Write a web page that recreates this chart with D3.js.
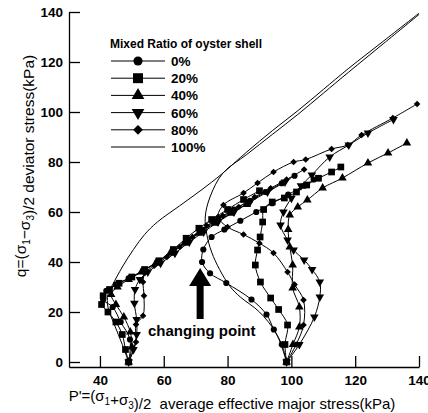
<!DOCTYPE html>
<html>
<head>
<meta charset="utf-8">
<script src="https://cdn.jsdelivr.net/npm/d3@7"></script>
<style>
  body { margin: 0; background: #fff; }
  svg { display: block; font-family: "Liberation Sans", Arial, sans-serif; }
</style>
</head>
<body>
<svg id="chart"></svg>
<script>
// Legend entries (mixed ratio of oyster shell)
const ratios = ["0%", "20%", "40%", "60%", "80%", "100%"];

// Axis ticks
const xTicks = [40, 60, 80, 100, 120, 140];
const yTicks = [0, 20, 40, 60, 80, 100, 120, 140];

// Stress paths [p', q] - lower confining pressure (start near p'=49)
const low0 = [[49,0],[49.4,9],[46.5,16],[44,22],[41,25],[42,28.5],[45,31],[49,33.5],[53.5,36.5],[58,40],[63,44.5],[67.5,49],[72,53],[77,57],[82,61],[87,64.5],[92,68],[97,71.5],[101,74.5]];
const low20 = [[49,0],[48,5],[47,11],[45,16],[42.5,20],[40.5,23],[41,26.5],[43,29],[46,31.5],[50,34],[54,37],[58.5,40.5],[63,45],[67,49.5],[71,53.5],[75,57],[80,61],[85,65],[90,68.5]];
const low40 = [[49,0],[50,6],[49.5,12],[47.5,18],[45,23],[43.5,27],[45.5,30],[49,33],[53,36],[57.5,39.5],[62,43.5],[66.5,47.5],[71,51.5],[76,55.5],[81,59.5],[86,63]];
const low60 = [[49,0],[50.5,5],[51.5,11],[51.5,17],[50.8,23.5],[51,29],[52.5,33],[55,36],[59,39.5],[63.5,43.5],[68,48],[72.5,52],[77,56],[82,60],[87,64],[92.5,68],[98,72]];
const low80 = [[49,0],[51.3,8],[51.3,15],[53.5,18.5],[53.8,26.5],[53.5,32],[54,35.5],[57,38.5],[61,42],[65,46],[69,50],[73.5,54.5],[78.5,58.5],[83.5,62],[88.5,66],[93.5,69.5],[98.5,73],[104,77]];
const low100 = [[49,0],[47,7],[44.5,15],[42.5,22],[42.5,27],[44,31],[47,38],[50.5,45],[54,51],[58,56],[65,62.5],[72,69],[78,75],[86,84],[94,92.5],[102,100.5],[110,109],[118,117.5],[129,128.5],[140,139.5]];

// Stress paths [p', q] - higher confining pressure (start near p'=98)
const high0 = [[98.5,0],[97,7],[94.5,13],[92.2,19],[87.5,25],[79.6,31.6],[74.5,35.5],[72,40],[72.4,45],[75,50],[79,53],[84,56.5],[89,60],[94,63.5],[99,67],[104,70.5],[107,73]];
const high20 = [[98.5,0],[98,7],[98.8,14.8],[96,21],[93.5,25.6],[90.3,32],[88.7,38.8],[89.4,44.8],[90.2,50],[91,56],[91.3,61],[94,64],[97.8,65.6],[101.6,68],[104.8,70.8],[108.5,73.5],[112.6,76],[115.5,78]];
const high40 = [[98.5,0],[100.5,7],[102.5,14],[102.5,22],[100.4,29.6],[100.4,38.8],[99.5,46],[99,53],[99.5,58.8],[102,62],[105,64.8],[109.8,69.6],[116,73.6],[124,79.6],[130.3,83.6],[136.2,87.6]];
const high60 = [[98.5,0],[102.5,7],[107.2,18],[108.9,26],[108.9,32],[106.5,37],[104,40.8],[100.7,44.8],[98.8,48.8],[96.6,54.8],[97.5,60],[100,65.5],[103,70.5],[106.4,74.8],[112,82],[118,86.8],[124,91.6],[132,97]];
const high80 = [[98.5,0],[101.5,7],[103.8,14.8],[103.8,24.8],[101,31],[98.8,36],[94.4,43.6],[90,47.5],[85,51],[80,54],[77,58],[78.7,62.8],[85,67.6],[89.4,71.6],[94.4,76],[100.7,80],[104.5,81],[112.6,85.2],[117.7,86.8],[122,90.8],[131.8,97.6],[139.4,103.2]];
const high100 = [[98.5,0],[97,6],[95,12],[90,20],[84,26],[80.9,30],[77.5,37],[75,44],[73.5,51],[73,58],[74.5,66],[78.5,75.5],[86,83],[94,91],[102,99],[110,107.5],[118,116],[129,127.5],[140,139]];

const lowPaths = [low0, low20, low40, low60, low80, low100];
const highPaths = [high0, high20, high40, high60, high80, high100];

// Layout
const W = 428, H = 413;
const svg = d3.select("#chart").attr("width", W).attr("height", H);

const x = d3.scaleLinear().domain([30.3, 140]).range([69, 419]);
const y = d3.scaleLinear().domain([-2, 140]).range([367, 12]);

// Marker symbol per ratio (null = plain line)
const symbols = [
  { type: d3.symbolCircle, size: 30, rot: 0 },
  { type: d3.symbolSquare, size: 45, rot: 0 },
  { type: d3.symbolTriangle, size: 32, rot: 0 },
  { type: d3.symbolTriangle, size: 32, rot: 180 },
  { type: d3.symbolSquare, size: 22, rot: 45 },
  null
];

// Axes
const yAxis = svg.append("g")
    .attr("transform", `translate(${x.range()[0]},0)`)
    .call(d3.axisLeft(y).tickValues(yTicks).tickSize(-11).tickSizeOuter(0).tickPadding(6));

const xAxis = svg.append("g")
    .attr("transform", `translate(0,${y.range()[0]})`)
    .call(d3.axisBottom(x).tickValues(xTicks).tickSize(-11).tickSizeOuter(0).tickPadding(8));

[xAxis, yAxis].forEach(g => {
  g.selectAll("path, line").attr("stroke", "#000").attr("stroke-width", 1.3);
  g.selectAll("text")
      .attr("fill", "#000")
      .style("font-size", "13.5px")
      .style("font-weight", "bold")
      .style("font-family", "'Liberation Sans', Arial, sans-serif");
});

// Stress path lines and markers
const line = d3.line().x(d => x(d[0])).y(d => y(d[1])).curve(d3.curveCatmullRom.alpha(0.5));
const plot = svg.append("g");

function drawPath(data, i) {
  plot.append("path")
      .attr("d", line(data))
      .attr("fill", "none")
      .attr("stroke", "#000")
      .attr("stroke-width", 1);
  const s = symbols[i];
  if (!s) return;
  plot.selectAll(null)
      .data(data)
    .enter().append("path")
      .attr("d", d3.symbol().type(s.type).size(s.size))
      .attr("transform", d => `translate(${x(d[0])},${y(d[1])}) rotate(${s.rot})`)
      .attr("fill", "#000");
}

lowPaths.forEach(drawPath);
highPaths.forEach(drawPath);

// Legend
const legend = svg.append("g").attr("transform", "translate(110,0)");
legend.append("text")
    .attr("x", 0).attr("y", 48)
    .style("font-size", "12px").style("font-weight", "bold")
    .text("Mixed Ratio of oyster shell");

ratios.forEach((r, i) => {
  const cy = 61 + i * 17.2;
  legend.append("line")
      .attr("x1", 1).attr("x2", 55).attr("y1", cy).attr("y2", cy)
      .attr("stroke", "#000").attr("stroke-width", 1);
  const s = symbols[i];
  if (s) {
    legend.append("path")
        .attr("d", d3.symbol().type(s.type).size(s.size * 2.2))
        .attr("transform", `translate(28,${cy}) rotate(${s.rot})`)
        .attr("fill", "#000");
  }
  legend.append("text")
      .attr("x", 61).attr("y", cy + 5)
      .style("font-size", "13.5px").style("font-weight", "bold")
      .text(r);
});

// Axis titles with subscripts
function subText(sel, parts) {
  parts.forEach(([t, sub]) => {
    sel.append("tspan")
        .attr("dy", sub ? 4 : 0)
        .style("font-size", sub ? "10px" : null)
        .style("white-space", "pre")
        .text(t);
    if (sub) sel.append("tspan").attr("dy", -4).text("");
  });
}

const yTitle = svg.append("text")
    .attr("transform", "translate(26,166) rotate(-90)")
    .attr("text-anchor", "middle")
    .style("font-size", "15.5px");
subText(yTitle, [["q=(σ", 0], ["1", 1], ["−σ", 0], ["3", 1], [")/2 deviator stress(kPa)", 0]]);

const xTitle = svg.append("text")
    .attr("x", 232).attr("y", 401)
    .attr("text-anchor", "middle")
    .style("font-size", "15px");
subText(xTitle, [["P'=(σ", 0], ["1", 1], ["+σ", 0], ["3", 1], [")/2  average effective major stress(kPa)", 0]]);

// Changing point annotation
const ax = x(71.4), tipY = y(37.6);
svg.append("path")
    .attr("d", `M${ax},${tipY} L${ax + 11},${tipY + 18} L${ax + 3.5},${tipY + 18} L${ax + 3.5},${tipY + 51}
                L${ax - 3.5},${tipY + 51} L${ax - 3.5},${tipY + 18} L${ax - 11},${tipY + 18} Z`)
    .attr("fill", "#000");

svg.append("text")
    .attr("x", 148).attr("y", 336)
    .style("font-size", "15px").style("font-weight", "bold")
    .text("changing point");
</script>
</body>
</html>
